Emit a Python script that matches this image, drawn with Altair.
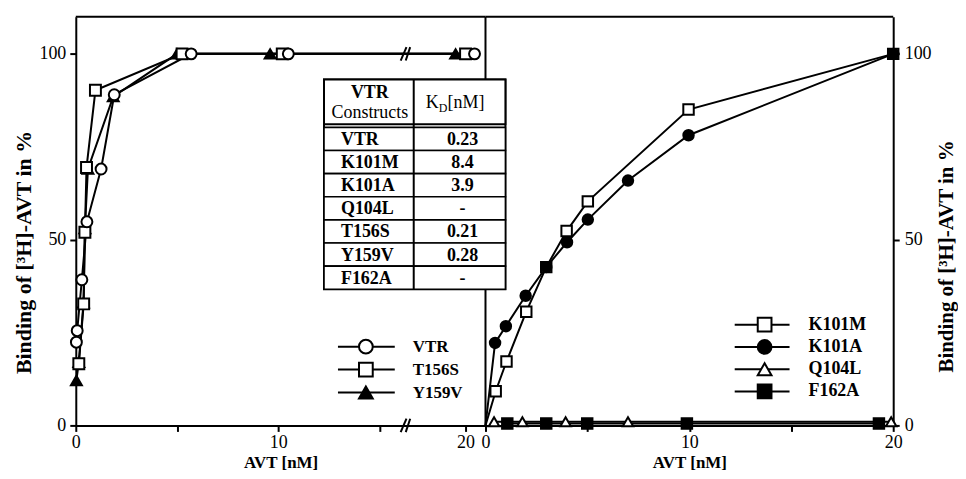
import altair as alt
import pandas as pd

FONT = "Liberation Serif"

# ---------------- data: left panel ----------------
left_names = ["Y159V", "T156S", "VTR"]
left_shapes = ["triangle-up", "square", "circle"]
left_fills = ["black", "white", "white"]

vtr_x = [0.03, 0.07, 0.3, 0.55, 1.25, 1.9, 5.7, 10.5, 20.45]
vtr_y = [22.4, 25.5, 39.2, 54.8, 69.0, 89.0, 100, 100, 100]
t156s_x = [0.15, 0.39, 0.45, 0.53, 0.97, 5.25, 10.2, 20.0]
t156s_y = [16.6, 32.7, 52.0, 69.4, 90.2, 100, 100, 100]
y159v_x = [0.03, 0.15, 0.38, 0.45, 0.6, 1.85, 5.0, 9.6, 19.5]
y159v_y = [12.1, 17.0, 33.0, 53.0, 69.0, 88.5, 100, 100, 100]

# ---------------- data: right panel ----------------
right_names = ["K101M", "K101A", "Q104L", "F162A"]
right_shapes = ["square", "circle", "triangle-up", "square"]
right_fills = ["white", "black", "white", "black"]

k101m_x = [0, 0.5, 1.03, 2.0, 2.98, 3.98, 5.02, 9.96, 20]
k101m_y = [0, 9.2, 17.2, 30.6, 42.6, 52.3, 60.3, 85.0, 100]
k101a_x = [0, 0.47, 1.0, 1.97, 2.98, 4.0, 5.02, 6.99, 9.96, 20]
k101a_y = [0, 22.2, 26.7, 34.9, 42.6, 49.3, 55.4, 65.9, 78.1, 100]
q104l_x = [0.42, 1.81, 3.93, 6.99, 19.9]
q104l_y = [1, 1, 1, 1, 1]
f162a_x = [1.07, 2.98, 4.99, 9.88, 19.3]
f162a_y = [0.5, 0.5, 0.5, 0.5, 0.5]

# ---------------- table ----------------
constructs = ["VTR", "K101M", "K101A", "Q104L", "T156S", "Y159V", "F162A"]
kd_values = ["0.23", "8.4", "3.9", "-", "0.21", "0.28", "-"]
header_lines = ["VTR", "Constructs"]

x_ticks = [0, 5, 10, 15, 20]
y_ticks = [0, 50, 100]
y_title = "Binding of [\u00b3H]-AVT in %"
x_title = "AVT [nM]"


def long_df(series):
    rows = []
    for name, xs, ys in series:
        for i, (a, b) in enumerate(zip(xs, ys)):
            rows.append({"series": name, "x": a, "y": b, "o": i})
    return pd.DataFrame(rows)


df_left = long_df([("Y159V", y159v_x, y159v_y), ("T156S", t156s_x, t156s_y), ("VTR", vtr_x, vtr_y)])
df_right = long_df([("K101M", k101m_x, k101m_y), ("K101A", k101a_x, k101a_y),
                    ("Q104L", q104l_x, q104l_y), ("F162A", f162a_x, f162a_y)])

W_LEFT, W_RIGHT, H = 411, 409, 410
yscale = alt.Scale(domain=[0, 110], nice=False, zero=False)
left_xscale = alt.Scale(domain=[0, 16.3, 19, 21], range=[0, 331, 371, 411], nice=False, zero=False)
right_xscale = alt.Scale(domain=[0, 20], nice=False, zero=False)

axis_common = dict(domainColor="black", domainWidth=2, tickColor="black", tickWidth=2, tickSize=6,
                   labelFont=FONT, labelFontSize=18, labelColor="black", labelFlush=False,
                   labelOverlap=False, titleFont=FONT, titleColor="black", grid=False)

label_expr = "datum.value % 10 == 0 ? datum.label : ''"


def x_axis():
    return alt.Axis(values=x_ticks, labelExpr=label_expr, title=x_title, labelPadding=2,
                    titlePadding=3, titleFontSize=17, titleFontWeight="bold", **axis_common)


def sym_scales(names, shapes, fills):
    return (alt.Shape("series:N", scale=alt.Scale(domain=names, range=shapes), legend=None),
            alt.Fill("series:N", scale=alt.Scale(domain=names, range=fills), legend=None))


# ---------------- left panel ----------------
lshape, lfill = sym_scales(left_names, left_shapes, left_fills)
left_lines = alt.Chart(df_left).mark_line(color="black", strokeWidth=2).encode(
    x=alt.X("x:Q", scale=left_xscale, axis=x_axis()),
    y=alt.Y("y:Q", scale=yscale,
            axis=alt.Axis(values=y_ticks, title=y_title, labelPadding=4, titlePadding=3,
                          titleFontSize=22, titleFontWeight="bold", titleY=236, **axis_common)),
    detail="series:N", order="o:Q")
left_points = alt.Chart(df_left).mark_point(filled=True, stroke="black", strokeWidth=2, size=120, opacity=1).encode(
    x="x:Q", y="y:Q", shape=lshape, fill=lfill)

left_top = alt.Chart(pd.DataFrame({"a": [0]})).mark_rule(color="black", strokeWidth=2).encode(
    x=alt.datum(0), x2=alt.datum(21), y=alt.datum(110))

breaks = pd.DataFrame({"bx": [16.05, 16.3, 16.05, 16.3], "bx2": [16.35, 16.6, 16.35, 16.6],
                       "by": [-1.8, -1.8, 98.2, 98.2], "by2": [1.8, 1.8, 101.8, 101.8]})
left_breaks = alt.Chart(breaks).mark_rule(color="black", strokeWidth=2).encode(
    x="bx:Q", x2="bx2:Q", y="by:Q", y2="by2:Q")

leg_l = pd.DataFrame({"series": ["VTR", "T156S", "Y159V"], "i": [0, 1, 2]})
leg_l_base = alt.Chart(leg_l).transform_calculate(py="331 + 23 * datum.i")
leg_l_lines = leg_l_base.mark_rule(color="black", strokeWidth=2).encode(
    x=alt.value(263), x2=alt.value(320), y=alt.Y("py:Q", scale=None, axis=None))
leg_l_pts = leg_l_base.mark_point(filled=True, stroke="black", strokeWidth=2, size=190, opacity=1).encode(
    x=alt.value(291), y=alt.Y("py:Q", scale=None, axis=None), shape=lshape, fill=lfill)
leg_l_text = leg_l_base.mark_text(align="left", baseline="middle", font=FONT, fontSize=17,
                                  fontWeight="bold", color="black").encode(
    x=alt.value(338), y=alt.Y("py:Q", scale=None, axis=None), text="series:N")

left = alt.layer(left_top, left_lines, left_breaks, left_points, leg_l_lines, leg_l_pts, leg_l_text).properties(
    width=W_LEFT, height=H)

# ---------------- right panel ----------------
rshape, rfill = sym_scales(right_names, right_shapes, right_fills)
right_lines = alt.Chart(df_right).mark_line(color="black", strokeWidth=2).encode(
    x=alt.X("x:Q", scale=right_xscale, axis=x_axis()),
    y=alt.Y("y:Q", scale=yscale,
            axis=alt.Axis(values=y_ticks, orient="right", title=y_title, labelPadding=5, titlePadding=4,
                          titleFontSize=21, titleFontWeight="bold", titleAngle=270, titleBaseline="top",
                          titleY=240, **axis_common)),
    detail="series:N", order="o:Q")
right_points = alt.Chart(df_right).transform_filter("datum.x > 0").mark_point(
    filled=True, stroke="black", strokeWidth=2, size=110, opacity=1).encode(
    x="x:Q", y="y:Q", shape=rshape, fill=rfill)

frame = pd.DataFrame({"a": [0]})
right_top = alt.Chart(frame).mark_rule(color="black", strokeWidth=2).encode(
    x=alt.datum(0), x2=alt.datum(20), y=alt.datum(110))
right_mid = alt.Chart(frame).mark_rule(color="black", strokeWidth=2).encode(
    x=alt.datum(0), y=alt.datum(0), y2=alt.datum(110))

leg_r = pd.DataFrame({"series": right_names, "i": [0, 1, 2, 3]})
leg_r_base = alt.Chart(leg_r).transform_calculate(py="309 + 22.3 * datum.i")
leg_r_lines = leg_r_base.mark_rule(color="black", strokeWidth=2).encode(
    x=alt.value(250), x2=alt.value(305), y=alt.Y("py:Q", scale=None, axis=None))
leg_r_pts = leg_r_base.mark_point(filled=True, stroke="black", strokeWidth=2, size=190, opacity=1).encode(
    x=alt.value(280), y=alt.Y("py:Q", scale=None, axis=None), shape=rshape, fill=rfill)
leg_r_text = leg_r_base.mark_text(align="left", baseline="middle", font=FONT, fontSize=18,
                                  fontWeight="bold", color="black").encode(
    x=alt.value(324), y=alt.Y("py:Q", scale=None, axis=None), text="series:N")

# table (drawn in right panel so it covers the centre line)
T_L, T_M, T_R = -162, -72, 20
T_TOP, H_BOT, R_TOP, ROW_H = 63, 108, 111, 23.2
T_BOT = R_TOP + ROW_H * len(constructs)
tab = pd.DataFrame({"construct": constructs, "kd": kd_values, "i": list(range(len(constructs)))})
tab_bg = alt.Chart(frame).mark_rect(fill="white", stroke="black", strokeWidth=2).encode(
    x=alt.value(T_L), x2=alt.value(T_R), y=alt.value(T_TOP), y2=alt.value(T_BOT))
tab_head = alt.Chart(frame).mark_rect(fill="white", stroke="black", strokeWidth=2).encode(
    x=alt.value(T_L), x2=alt.value(T_R), y=alt.value(T_TOP), y2=alt.value(H_BOT))
tab_base = alt.Chart(tab).transform_calculate(
    top=f"{R_TOP} + {ROW_H} * datum.i", bot=f"{R_TOP} + {ROW_H} * (datum.i + 1)",
    mid=f"{R_TOP} + {ROW_H} * (datum.i + 0.5) + 1")
tab_rows = tab_base.mark_rect(fill="white", stroke="black", strokeWidth=1.6).encode(
    x=alt.value(T_L), x2=alt.value(T_R), y=alt.Y("top:Q", scale=None, axis=None), y2="bot:Q")
tab_div = alt.Chart(frame).mark_rule(color="black", strokeWidth=2).encode(
    x=alt.value(T_M), y=alt.value(T_TOP), y2=alt.value(T_BOT))
tab_names = tab_base.mark_text(align="left", baseline="middle", font=FONT, fontSize=18,
                               fontWeight="bold", color="black").encode(
    x=alt.value(T_L + 17), y=alt.Y("mid:Q", scale=None, axis=None), text="construct:N")
tab_kd = tab_base.mark_text(align="center", baseline="middle", font=FONT, fontSize=18,
                            fontWeight="bold", color="black").encode(
    x=alt.value((T_M + T_R) / 2 + 3), y=alt.Y("mid:Q", scale=None, axis=None), text="kd:N")
hdr_a = pd.DataFrame({"t": [header_lines[0]]})
hdr_b = pd.DataFrame({"t": [header_lines[1]]})
tab_hdr1a = alt.Chart(hdr_a).mark_text(align="center", baseline="middle", font=FONT, fontSize=18,
                                       fontWeight="bold", color="black").encode(
    x=alt.value((T_L + T_M) / 2 + 1), y=alt.value(77), text="t:N")
tab_hdr1b = alt.Chart(hdr_b).mark_text(align="center", baseline="middle", font=FONT, fontSize=18,
                                       color="black").encode(
    x=alt.value((T_L + T_M) / 2 + 1), y=alt.value(97), text="t:N")
kd_parts = pd.DataFrame({"t": ["K", "D", "[nM]"], "px": [-60, -47, -38], "py": [87, 92, 87],
                         "fs": [18, 12, 18]})
tab_hdr2 = alt.Chart(kd_parts).mark_text(align="left", baseline="middle", font=FONT,
                                         color="black").encode(
    x=alt.X("px:Q", scale=None, axis=None), y=alt.Y("py:Q", scale=None, axis=None), text="t:N",
    size=alt.Size("fs:Q", scale=None, legend=None))

right = alt.layer(right_top, right_mid, right_lines, right_points, leg_r_lines, leg_r_pts, leg_r_text,
                  tab_bg, tab_head, tab_rows, tab_div, tab_names, tab_kd, tab_hdr1a, tab_hdr1b,
                  tab_hdr2).properties(width=W_RIGHT, height=H)

chart = alt.hconcat(left, right, spacing=0, bounds="flush").resolve_scale(
    x="independent", y="independent", shape="independent", fill="independent"
).properties(padding={"left": 5, "top": 7, "right": 2, "bottom": 0}, background="white").configure_view(
    stroke=None)

chart.save("out.html", embed_options={"renderer": "svg", "actions": False})
